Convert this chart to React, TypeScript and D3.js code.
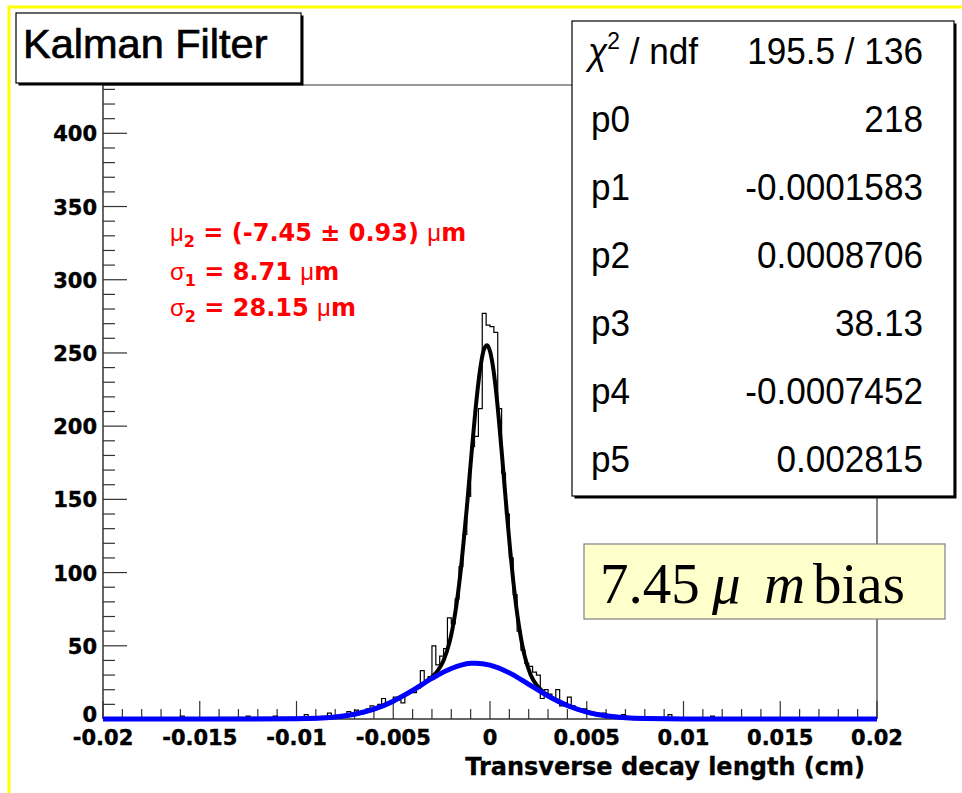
import React from 'react';
import * as d3 from 'd3';

// ---------- data ----------
const X_DOMAIN: [number, number] = [-0.02, 0.02];
const Y_DOMAIN: [number, number] = [0, 433];
const BIN_WIDTH = 0.0002;
// 200 bins from -0.02 to 0.02
const COUNTS = [
  0, 0, 0, 0, 0, 0, 0, 1, 0, 0,
  0, 0, 0, 0, 0, 0, 0, 0, 0, 0,
  2, 0, 0, 0, 0, 0, 1, 0, 0, 0,
  0, 0, 0, 0, 1, 0, 0, 2, 0, 0,
  0, 0, 0, 0, 2, 0, 0, 0, 1, 0,
  0, 1, 3, 0, 0, 1, 0, 1, 4, 1,
  2, 1, 3, 5, 4, 6, 5, 4, 7, 9,
  8, 10, 14, 11, 12, 15, 13, 11, 17, 19,
  18, 21, 33, 26, 29, 50, 37, 43, 48, 69,
  65, 82, 104, 126, 152, 186, 193, 212, 277, 269,
  268, 264, 212, 168, 140, 110, 85, 60, 47, 38,
  36, 32, 30, 14, 20, 17, 14, 20, 9, 11,
  15, 9, 7, 6, 7, 5, 3, 3, 2, 4,
  1, 2, 1, 2, 3, 1, 0, 1, 1, 0,
  1, 0, 0, 0, 0, 0, 3, 0, 1, 0,
  0, 0, 0, 0, 0, 0, 0, 2, 0, 0,
  0, 1, 0, 0, 0, 0, 0, 0, 0, 0,
  0, 0, 0, 0, 0, 0, 0, 0, 0, 0,
  0, 0, 0, 0, 0, 0, 0, 0, 0, 0,
  0, 0, 0, 0, 0, 0, 0, 0, 0, 0,
];

// total fit curve (black)
const FIT_TOTAL_X = [
  -0.02, -0.015, -0.01, -0.008, -0.007, -0.006, -0.005, -0.0045, -0.004, -0.0035,
  -0.003, -0.0027, -0.0024, -0.0021, -0.00195, -0.0018, -0.00165, -0.0015, -0.00135, -0.0012,
  -0.00105, -0.0009, -0.00075, -0.0006, -0.00045, -0.0003, -0.00015, 0, 0.00015, 0.0003,
  0.00045, 0.0006, 0.00075, 0.0009, 0.00105, 0.0012, 0.00135, 0.0015, 0.00165, 0.0018,
  0.0021, 0.0024, 0.0027, 0.003, 0.0035, 0.004, 0.005, 0.006, 0.007, 0.008,
  0.01, 0.015, 0.02,
];
const FIT_TOTAL_Y = [
  0, 0, 0.17, 1.38, 3.23, 6.67, 12.2, 15.7, 19.5, 23.8,
  28.7, 33, 40, 52, 60.9, 72.2, 86.3, 103, 123.1, 144,
  166.8, 189.6, 211, 229.7, 244, 252.8, 255.3, 251.2, 241, 225.5,
  205.6, 183.2, 159.5, 136.2, 114.3, 94.5, 77.4, 63.3, 51.7, 42.6,
  30.3, 23.3, 19, 16, 12.2, 9.2, 4.75, 2.16, 0.87, 0.3,
  0.02, 0, 0,
];

// broad gaussian component (blue)
const FIT_WIDE_X = [
  -0.02, -0.015, -0.012, -0.01, -0.008, -0.007, -0.006, -0.005, -0.004, -0.003,
  -0.002, -0.001, -0.000745, 0, 0.001, 0.002, 0.003, 0.004, 0.005, 0.006,
  0.007, 0.008, 0.01, 0.015, 0.02,
];
const FIT_WIDE_Y = [
  0, 0, 0.01, 0.17, 1.38, 3.23, 6.67, 12.2, 19.5, 27.7,
  34.5, 38.0, 38.13, 36.8, 31.5, 23.7, 15.7, 9.2, 4.75, 2.16,
  0.87, 0.3, 0.02, 0, 0,
];

const X_TICKS = [-0.02, -0.015, -0.01, -0.005, 0, 0.005, 0.01, 0.015, 0.02];
const X_TICK_LABELS = ['-0.02', '-0.015', '-0.01', '-0.005', '0', '0.005', '0.01', '0.015', '0.02'];
const Y_TICKS = [0, 50, 100, 150, 200, 250, 300, 350, 400];
const Y_TICK_LABELS = ['0', '50', '100', '150', '200', '250', '300', '350', '400'];

const TITLE = 'Kalman Filter';
const X_TITLE = 'Transverse decay length (cm)';
const CHI2_VALUE = '195.5 / 136';
const STAT_LABELS = ['p0', 'p1', 'p2', 'p3', 'p4', 'p5'];
const STAT_VALUES = ['218', '-0.0001583', '0.0008706', '38.13', '-0.0007452', '0.002815'];

// ---------- layout ----------
const W = 962;
const H = 793;
const PLOT = { left: 103, right: 877, top: 85, bottom: 719 };

const BOLD = "'DejaVu Sans', sans-serif";
const HELV = "'Liberation Sans', Arial, sans-serif";
const SERIF = "'Liberation Serif', 'Times New Roman', serif";

export default function App() {
  const x = d3.scaleLinear().domain(X_DOMAIN).range([PLOT.left, PLOT.right]);
  const y = d3.scaleLinear().domain(Y_DOMAIN).range([PLOT.bottom, PLOT.top]);

  // histogram outline
  const histPts: [number, number][] = COUNTS.map((c, i) => [X_DOMAIN[0] + i * BIN_WIDTH, c]);
  histPts.push([X_DOMAIN[0] + COUNTS.length * BIN_WIDTH, COUNTS[COUNTS.length - 1]]);
  const histPath = d3
    .line<[number, number]>()
    .x((d) => x(d[0]))
    .y((d) => y(d[1]))
    .curve(d3.curveStepAfter)(histPts) as string;

  const curve = d3
    .line<[number, number]>()
    .x((d) => x(d[0]))
    .y((d) => y(d[1]))
    .curve(d3.curveMonotoneX);
  const totalPath = curve(FIT_TOTAL_X.map((v, i) => [v, FIT_TOTAL_Y[i]] as [number, number])) as string;
  const widePath = curve(FIT_WIDE_X.map((v, i) => [v, FIT_WIDE_Y[i]] as [number, number])) as string;

  // minor ticks
  const yMinor = d3.range(0, 431, 10);
  const xMinor = d3.range(0, 41).map((k) => X_DOMAIN[0] + k * 0.001);

  const axisColor = '#333';
  const statsBaseline0 = 64;
  const statsStep = 68;
  const sx = 0.95;

  return (
    <svg
      width={W}
      height={H}
      viewBox={`0 0 ${W} ${H}`}
      style={{ position: 'absolute', left: 0, top: 0, background: '#fff' }}
    >
      <rect x={0} y={0} width={W} height={H} fill="#fff" />
      {/* yellow border */}
      <rect x={9} y={7} width={W + 20} height={H + 20} fill="none" stroke="#ffff00" strokeWidth={3} />

      {/* frame */}
      <line x1={PLOT.left} x2={PLOT.right} y1={PLOT.top} y2={PLOT.top} stroke={axisColor} strokeWidth={1.2} />
      <line x1={PLOT.right} x2={PLOT.right} y1={PLOT.top} y2={PLOT.bottom} stroke={axisColor} strokeWidth={1.2} />
      <line x1={PLOT.left} x2={PLOT.left} y1={PLOT.top} y2={PLOT.bottom} stroke={axisColor} strokeWidth={1.5} />
      <line x1={PLOT.left} x2={PLOT.right} y1={PLOT.bottom} y2={PLOT.bottom} stroke={axisColor} strokeWidth={1.5} />

      {/* y ticks */}
      {yMinor.map((v) => (
        <line
          key={'ym' + v}
          x1={PLOT.left}
          x2={PLOT.left + (v % 50 === 0 ? 24 : 12)}
          y1={y(v)}
          y2={y(v)}
          stroke={axisColor}
          strokeWidth={1.2}
        />
      ))}
      {Y_TICKS.map((v, i) => (
        <text
          key={'yl' + v}
          x={PLOT.left - 6}
          y={v === 0 ? y(v) + 3 : y(v) + 8}
          textAnchor="end"
          fontFamily={BOLD}
          fontWeight="bold"
          fontSize={21}
          fill="#000"
          stroke="#000"
          strokeWidth={0.4}
        >
          {Y_TICK_LABELS[i]}
        </text>
      ))}

      {/* x ticks */}
      {xMinor.map((v, k) => (
        <line
          key={'xm' + k}
          x1={x(v)}
          x2={x(v)}
          y1={PLOT.bottom}
          y2={PLOT.bottom - (k % 5 === 0 ? 18 : 10)}
          stroke={axisColor}
          strokeWidth={1.2}
        />
      ))}
      {X_TICKS.map((v, i) => (
        <text
          key={'xl' + i}
          x={x(v)}
          y={745}
          textAnchor="middle"
          fontFamily={BOLD}
          fontWeight="bold"
          fontSize={21}
          fill="#000"
          stroke="#000"
          strokeWidth={0.4}
        >
          {X_TICK_LABELS[i]}
        </text>
      ))}
      <text
        x={865}
        y={775}
        textAnchor="end"
        fontFamily={BOLD}
        fontWeight="bold"
        fontSize={24}
        fill="#000"
        stroke="#000"
        strokeWidth={0.3}
      >
        {X_TITLE}
      </text>

      {/* histogram and fits */}
      <path d={histPath} fill="none" stroke="#000" strokeWidth={1.2} />
      <path d={totalPath} fill="none" stroke="#000" strokeWidth={4} strokeLinejoin="round" />
      <path d={widePath} fill="none" stroke="#0000ff" strokeWidth={5} strokeLinejoin="round" />

      {/* red fit results */}
      <g fill="#ff0000" fontFamily={BOLD} fontWeight="bold" fontSize={24} style={{ whiteSpace: 'pre' }}>
        <text x={170} y={241}>
          <tspan fontWeight="normal" fontFamily={HELV}>μ</tspan>
          <tspan fontSize={16} dy={6}>2</tspan>
          <tspan dy={-6}>{' = (-7.45 ± 0.93) '}</tspan>
          <tspan fontWeight="normal" fontFamily={HELV}>μ</tspan>
          <tspan>m</tspan>
        </text>
        <text x={170} y={280}>
          <tspan fontWeight="normal" fontFamily={HELV}>σ</tspan>
          <tspan fontSize={16} dy={6}>1</tspan>
          <tspan dy={-6}>{' = 8.71 '}</tspan>
          <tspan fontWeight="normal" fontFamily={HELV}>μ</tspan>
          <tspan>m</tspan>
        </text>
        <text x={170} y={316}>
          <tspan fontWeight="normal" fontFamily={HELV}>σ</tspan>
          <tspan fontSize={16} dy={6}>2</tspan>
          <tspan dy={-6}>{' = 28.15 '}</tspan>
          <tspan fontWeight="normal" fontFamily={HELV}>μ</tspan>
          <tspan>m</tspan>
        </text>
      </g>

      {/* stats box */}
      <rect x={574.5} y={23.5} width={382} height={475} fill="#000" />
      <rect x={572} y={21} width={382} height={475} fill="#fff" stroke="#000" strokeWidth={1.2} />
      <g fontFamily={HELV} fontSize={37} fill="#000">
        <g transform={`translate(588, ${statsBaseline0}) scale(${sx}, 1)`}>
          <text x={0} y={0} style={{ whiteSpace: 'pre' }}>
            <tspan fontStyle="italic">χ</tspan>
            <tspan fontSize={24} dy={-15}>2</tspan>
            <tspan dy={15}>{' / ndf'}</tspan>
          </text>
        </g>
        <g transform={`translate(923, ${statsBaseline0}) scale(${sx}, 1)`}>
          <text x={0} y={0} textAnchor="end">{CHI2_VALUE}</text>
        </g>
        {STAT_LABELS.map((lab, i) => (
          <g key={lab}>
            <g transform={`translate(591, ${statsBaseline0 + (i + 1) * statsStep}) scale(${sx}, 1)`}>
              <text x={0} y={0}>{lab}</text>
            </g>
            <g transform={`translate(923, ${statsBaseline0 + (i + 1) * statsStep}) scale(${sx}, 1)`}>
              <text x={0} y={0} textAnchor="end">{STAT_VALUES[i]}</text>
            </g>
          </g>
        ))}
      </g>

      {/* title box */}
      <rect x={18.5} y={15.5} width={285} height={70} fill="#000" />
      <rect x={16} y={13} width={285} height={70} fill="#fff" stroke="#000" strokeWidth={1.2} />
      <text x={23} y={58} fontFamily={HELV} fontSize={41.5} fill="#000" stroke="#000" strokeWidth={0.7}>
        {TITLE}
      </text>

      {/* bias annotation */}
      <rect x={584} y={544} width={361} height={75} fill="#ffffcc" stroke="#808080" strokeWidth={1.2} />
      <text y={603} fontFamily={SERIF} fontSize={57} fill="#000">
        <tspan x={600}>7.45</tspan>
        <tspan x={712} fontStyle="italic">μ</tspan>
        <tspan x={764} fontStyle="italic">m</tspan>
        <tspan x={813}>bias</tspan>
      </text>
    </svg>
  );
}
